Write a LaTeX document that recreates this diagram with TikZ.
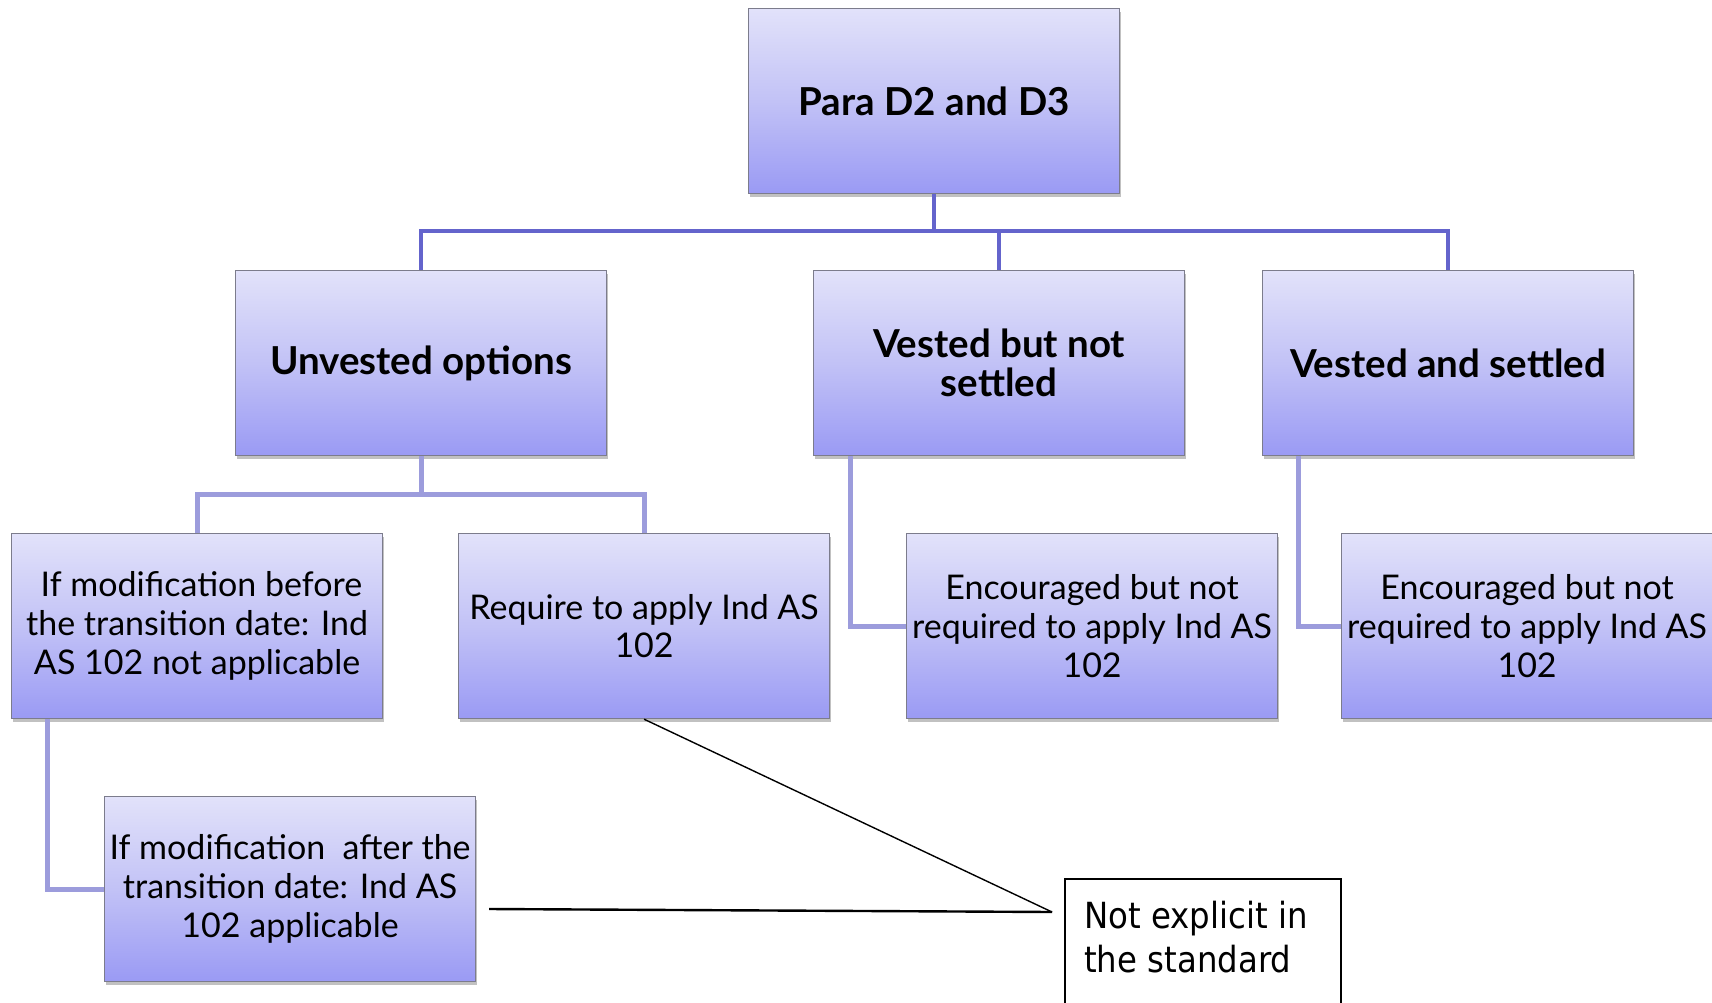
\documentclass[tikz,border=0pt]{standalone}
\usepackage{fontspec}
\setmainfont{Lato}
\newfontfamily\notefont[FakeStretch=0.9]{DejaVu Sans}
\usetikzlibrary{shadows}
\definecolor{boxtop}{HTML}{E2E2FA}
\definecolor{boxmid}{HTML}{C2C2F6}
\definecolor{boxbot}{HTML}{9A9AF4}
\definecolor{boxline}{HTML}{7C7C8C}
\definecolor{lineA}{HTML}{6464CC}
\definecolor{lineB}{HTML}{9C9CDC}
\tikzset{
  pbox/.style={draw=boxline, line width=1.2pt, top color=boxtop, bottom color=boxbot, middle color=boxmid,
    anchor=north west, minimum width=371pt, minimum height=185pt, inner sep=0pt, align=center,
    drop shadow={shadow xshift=1.5pt, shadow yshift=-3pt, opacity=0.35, fill=black!70}},
  hbox/.style={pbox, font=\fontsize{38.5}{39}\selectfont\bfseries},
  tbox/.style={pbox, font=\fontsize{34}{39}\selectfont},
  connA/.style={draw=lineA, line width=4.5pt},
  connB/.style={draw=lineB, line width=5pt},
  callout/.style={draw=black, line width=1.8pt, fill=white, anchor=north west, minimum width=276pt, minimum height=150pt, inner sep=0pt},
}
\begin{document}
\begin{tikzpicture}[x=1pt,y=-1pt]
\useasboundingbox (0,0) rectangle (1712,1003);
% nodes
\node[hbox] (top) at (748,8) {Para D2 and D3};
\node[hbox] (unv) at (235,270) {Unvested options};
\node[hbox] (vbn) at (813,270) {Vested but not\\settled};
\node[hbox] (vs) at (1262,270) {Vested and settled};
\node[tbox] (m1) at (11,533) {\ If modification before\\the transition date: Ind\\AS 102 not applicable};
\node[tbox] (req) at (458,533) {Require to apply Ind AS\\102};
\node[tbox] (enc1) at (906,533) {Encouraged but not\\required to apply Ind AS\\102};
\node[tbox] (enc2) at (1341,533) {Encouraged but not\\required to apply Ind AS\\102};
\node[tbox] (m2) at (104,796) {If modification\ \ after the\\transition date: Ind AS\\102 applicable};
\node[callout] (note) at (1064,878) {};
\node[anchor=north west, inner sep=0pt, align=left, font=\notefont\fontsize{36}{44}\selectfont] (notetxt) at (1084,901) {Not explicit in\\the standard};
% connectors
\draw[connA] (top.south) -- ++(0,37) coordinate (hub) -| (unv.north);
\draw[connA] (hub) -| (vbn.north);
\draw[connA] (hub) -| (vs.north);
\draw[connB] (unv.south) -- ++(0,38) coordinate (hub2) -| (m1.north);
\draw[connB] (hub2) -| (req.north);
\draw[connB] ([xshift=37pt]vbn.south west) |- (enc1.west);
\draw[connB] ([xshift=36pt]vs.south west) |- (enc2.west);
\draw[connB] ([xshift=36pt]m1.south west) |- (m2.west);
% callout pointers
\coordinate (tip) at (1052,912);
\coordinate (lend) at (489,909);
\draw[black, line width=1.4pt] (req.south) -- (tip);
\draw[black, line width=2.4pt] (lend) -- (tip);
\end{tikzpicture}
\end{document}
